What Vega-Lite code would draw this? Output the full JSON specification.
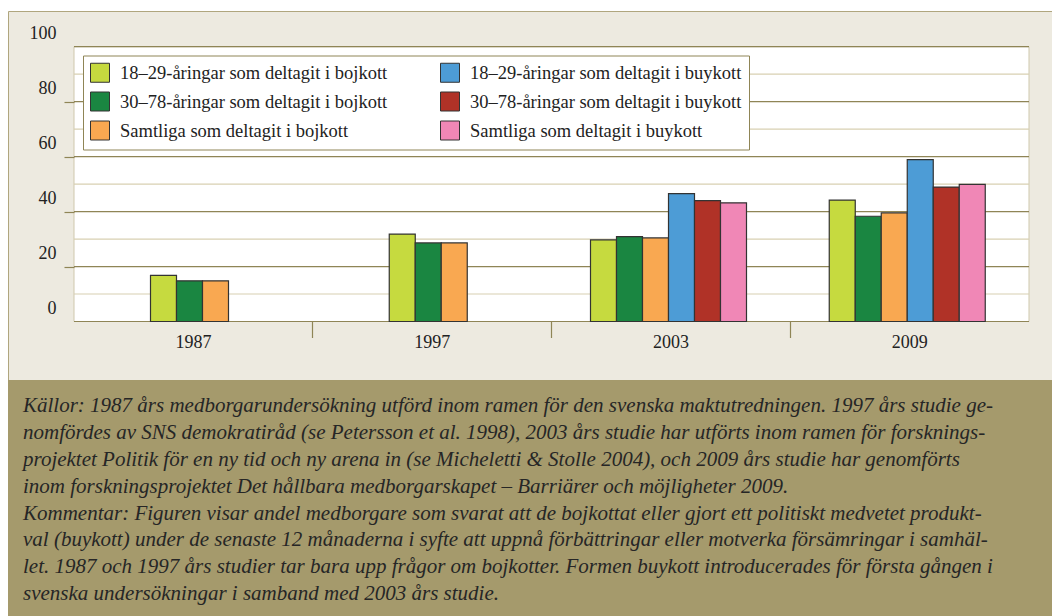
{
  "$schema": "https://vega.github.io/schema/vega-lite/v6.json",
  "background": "white",
  "padding": {"left": 7, "top": 10, "right": 0, "bottom": 0},
  "spacing": 0,
  "bounds": "flush",
  "config": {"font": "Liberation Serif"},
  "vconcat": [
    {
      "width": 1045,
      "height": 369,
      "view": {"fill": "#edeae0", "stroke": "#b0a67e"},
      "layer": [
        {
          "layer": [
            {
              "data": {"values": [{"panel": "plot"}]},
              "mark": {"type": "rect", "fill": "white", "stroke": "#cfc8ad", "strokeWidth": 1},
              "encoding": {
                "x": {"datum": 0, "type": "quantitative", "scale": {"domain": [0, 1], "range": [66, 1021], "nice": false, "zero": false}, "axis": null},
                "x2": {"datum": 1},
                "y": {
                  "datum": 0, "type": "quantitative",
                  "scale": {"domain": [0, 100], "range": [310.5, 35.7], "nice": false},
                  "axis": {
                    "title": null, "orient": "left", "offset": -66, "values": [0, 20, 40, 60, 80, 100], "zindex": 1,
                    "grid": false, "domain": false, "tickSize": 10, "tickWidth": 1.2,
                    "tickColor": {"condition": {"test": "datum.value == 0 || datum.value == 100", "value": "transparent"}, "value": "#8f8556"},
                    "labelOffset": -13.5, "labelPadding": 8, "labelFont": "Liberation Serif", "labelFontSize": 18, "labelColor": "#222"
                  }
                },
                "y2": {"datum": 100}
              }
            },
            {
              "data": {"values": [
                {"v": 10, "kind": "minor"}, {"v": 30, "kind": "minor"}, {"v": 50, "kind": "minor"}, {"v": 70, "kind": "minor"}, {"v": 90, "kind": "minor"},
                {"v": 0, "kind": "major"}, {"v": 20, "kind": "major"}, {"v": 40, "kind": "major"}, {"v": 60, "kind": "major"}, {"v": 80, "kind": "major"}, {"v": 100, "kind": "major"}
              ]},
              "mark": {"type": "rule", "strokeWidth": 1.2},
              "encoding": {
                "x": {"datum": 0, "type": "quantitative", "scale": {"domain": [0, 1], "range": [66, 1021], "nice": false, "zero": false}, "axis": null},
                "x2": {"datum": 1},
                "y": {
                  "field": "v", "type": "quantitative",
                  "scale": {"domain": [0, 100], "range": [310.5, 35.7], "nice": false},
                  "axis": {
                    "title": null, "orient": "left", "offset": -66, "values": [0, 20, 40, 60, 80, 100], "zindex": 1,
                    "grid": false, "domain": false, "tickSize": 10, "tickWidth": 1.2,
                    "tickColor": {"condition": {"test": "datum.value == 0 || datum.value == 100", "value": "transparent"}, "value": "#8f8556"},
                    "labelOffset": -13.5, "labelPadding": 8, "labelFont": "Liberation Serif", "labelFontSize": 18, "labelColor": "#222"
                  }
                },
                "stroke": {"field": "kind", "type": "nominal", "scale": {"domain": ["minor", "major"], "range": ["#d8d0b2", "#8f8556"]}, "legend": null}
              }
            }
          ]
        },
        {
          "encoding": {
            "x": {
              "field": "year", "type": "nominal",
              "scale": {"range": [66, 1021], "paddingInner": 0, "paddingOuter": 0},
              "axis": {
                "title": null, "orient": "bottom", "offset": -58.5, "bandPosition": 0,
                "domain": false, "grid": false, "tickSize": 16, "tickWidth": 1.2,
                "tickColor": {"condition": {"test": "datum.value == '1987'", "value": "transparent"}, "value": "#8f8556"},
                "labelPadding": -4, "labelFont": "Liberation Serif", "labelFontSize": 18, "labelColor": "#222", "labelAngle": 0
              }
            },
            "y": {
              "field": "value", "type": "quantitative",
              "scale": {"domain": [0, 100], "range": [310.5, 35.7], "nice": false},
              "axis": {
                "title": null, "orient": "left", "offset": -66, "values": [0, 20, 40, 60, 80, 100], "zindex": 1,
                "grid": false, "domain": false, "tickSize": 10, "tickWidth": 1.2,
                "tickColor": {"condition": {"test": "datum.value == 0 || datum.value == 100", "value": "transparent"}, "value": "#8f8556"},
                "labelOffset": -13.5, "labelPadding": 8, "labelFont": "Liberation Serif", "labelFontSize": 18, "labelColor": "#222"
              }
            },
            "fill": {
              "field": "serie", "type": "nominal",
              "scale": {
                "domain": ["18–29-åringar som deltagit i bojkott", "30–78-åringar som deltagit i bojkott", "Samtliga som deltagit i bojkott", "18–29-åringar som deltagit i buykott", "30–78-åringar som deltagit i buykott", "Samtliga som deltagit i buykott"],
                "range": ["#c6da3f", "#1a8641", "#f9a851", "#4d9cd6", "#b03227", "#f087b6"]
              },
              "legend": {
                "orient": "none", "legendX": 75, "legendY": 44.5, "columns": 2, "title": null,
                "symbolType": "square", "symbolSize": 361, "symbolStrokeColor": "#333", "symbolStrokeWidth": 1, "symbolOpacity": 1,
                "labelFont": "Liberation Serif", "labelFontSize": 18.5, "labelColor": "#222", "labelOffset": 10, "labelLimit": 400,
                "rowPadding": 5, "columnPadding": 50, "padding": 7,
                "strokeColor": "#8f8556", "fillColor": "white"
              }
            }
          },
          "layer": [
            {
              "data": {"values": [
                {"year": "1987", "serie": "18–29-åringar som deltagit i bojkott", "value": 16.8},
                {"year": "1987", "serie": "30–78-åringar som deltagit i bojkott", "value": 14.8},
                {"year": "1987", "serie": "Samtliga som deltagit i bojkott", "value": 14.8},
                {"year": "1997", "serie": "18–29-åringar som deltagit i bojkott", "value": 31.8},
                {"year": "1997", "serie": "30–78-åringar som deltagit i bojkott", "value": 28.6},
                {"year": "1997", "serie": "Samtliga som deltagit i bojkott", "value": 28.6}
              ]},
              "mark": {"type": "bar", "stroke": "#333", "strokeWidth": 1.2},
              "encoding": {
                "xOffset": {
                  "field": "serie", "type": "nominal",
                  "scale": {"domain": ["18–29-åringar som deltagit i bojkott", "30–78-åringar som deltagit i bojkott", "Samtliga som deltagit i bojkott"], "range": [76.5, 154.5], "paddingInner": 0, "paddingOuter": 0}
                }
              }
            },
            {
              "data": {"values": [
                {"year": "2003", "serie": "18–29-åringar som deltagit i bojkott", "value": 29.7},
                {"year": "2003", "serie": "30–78-åringar som deltagit i bojkott", "value": 30.9},
                {"year": "2003", "serie": "Samtliga som deltagit i bojkott", "value": 30.4},
                {"year": "2003", "serie": "18–29-åringar som deltagit i buykott", "value": 46.5},
                {"year": "2003", "serie": "30–78-åringar som deltagit i buykott", "value": 44.0},
                {"year": "2003", "serie": "Samtliga som deltagit i buykott", "value": 43.2},
                {"year": "2009", "serie": "18–29-åringar som deltagit i bojkott", "value": 44.2},
                {"year": "2009", "serie": "30–78-åringar som deltagit i bojkott", "value": 38.3},
                {"year": "2009", "serie": "Samtliga som deltagit i bojkott", "value": 39.5},
                {"year": "2009", "serie": "18–29-åringar som deltagit i buykott", "value": 58.9},
                {"year": "2009", "serie": "30–78-åringar som deltagit i buykott", "value": 48.9},
                {"year": "2009", "serie": "Samtliga som deltagit i buykott", "value": 49.9}
              ]},
              "mark": {"type": "bar", "stroke": "#333", "strokeWidth": 1.2},
              "encoding": {
                "xOffset": {
                  "field": "serie", "type": "nominal",
                  "scale": {"domain": ["18–29-åringar som deltagit i bojkott", "30–78-åringar som deltagit i bojkott", "Samtliga som deltagit i bojkott", "18–29-åringar som deltagit i buykott", "30–78-åringar som deltagit i buykott", "Samtliga som deltagit i buykott"], "range": [39, 195], "paddingInner": 0, "paddingOuter": 0}
                }
              }
            }
          ],
          "resolve": {"scale": {"xOffset": "independent"}}
        }
      ],
      "resolve": {"scale": {"x": "independent"}, "axis": {"x": "independent"}}
    },
    {
      "width": 1045,
      "height": 237,
      "view": {"fill": "#a59a6c", "stroke": null},
      "data": {"values": [
        {"line": 1, "txt": "Källor: 1987 års medborgarundersökning utförd inom ramen för den svenska maktutredningen. 1997 års studie ge-"},
        {"line": 2, "txt": "nomfördes av SNS demokratiråd (se Petersson et al. 1998), 2003 års studie har utförts inom ramen för forsknings-"},
        {"line": 3, "txt": "projektet Politik för en ny tid och ny arena in (se Micheletti & Stolle 2004), och 2009 års studie har genomförts"},
        {"line": 4, "txt": "inom forskningsprojektet Det hållbara medborgarskapet – Barriärer och möjligheter 2009."},
        {"line": 5, "txt": "Kommentar: Figuren visar andel medborgare som svarat att de bojkottat eller gjort ett politiskt medvetet produkt-"},
        {"line": 6, "txt": "val (buykott) under de senaste 12 månaderna i syfte att uppnå förbättringar eller motverka försämringar i samhäl-"},
        {"line": 7, "txt": "let. 1987 och 1997 års studier tar bara upp frågor om bojkotter. Formen buykott introducerades för första gången i"},
        {"line": 8, "txt": "svenska undersökningar i samband med 2003 års studie."}
      ]},
      "mark": {"type": "text", "align": "left", "baseline": "middle", "font": "Liberation Serif", "fontStyle": "italic", "fontSize": 21, "color": "#262626", "dx": 15},
      "encoding": {
        "x": {"datum": 0, "type": "quantitative", "scale": {"domain": [0, 1], "nice": false, "zero": false}, "axis": null},
        "y": {"field": "line", "type": "quantitative", "scale": {"domain": [0.033, 8.845], "reverse": true, "nice": false, "zero": false}, "axis": null},
        "text": {"field": "txt", "type": "nominal"}
      }
    }
  ]
}
